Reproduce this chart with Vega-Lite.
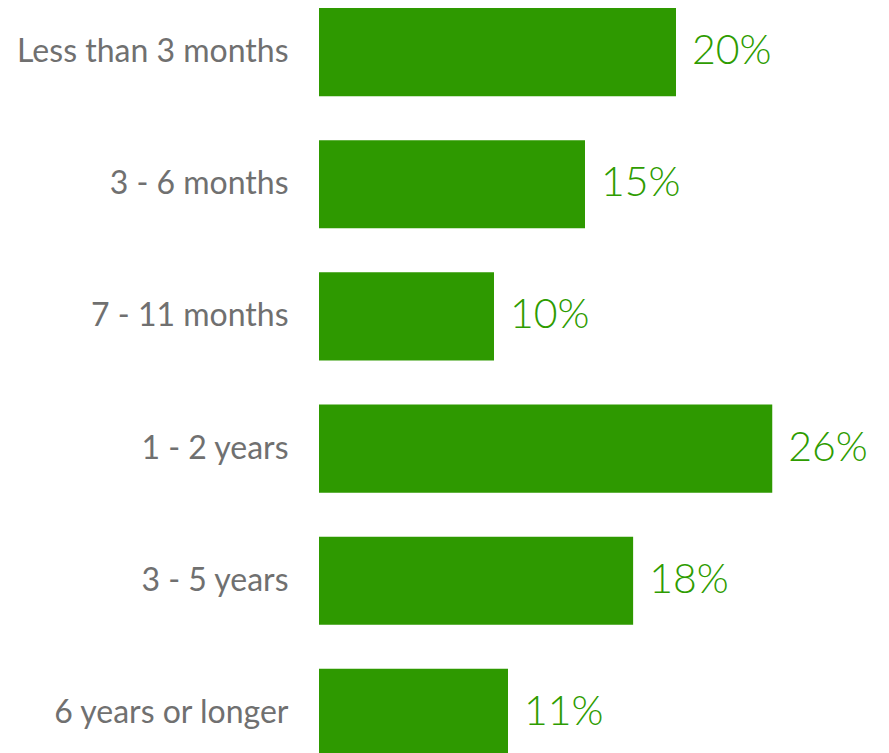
{
  "$schema": "https://vega.github.io/schema/vega-lite/v6.json",
  "width": 560,
  "height": 749,
  "autosize": "none",
  "padding": {"left": 319, "top": 8, "right": 10, "bottom": 0},
  "background": "white",
  "config": {"view": {"stroke": null}},
  "data": {
    "values": [
      {"category": "Less than 3 months", "value": 20.4, "label": "20%"},
      {"category": "3 - 6 months", "value": 15.2, "label": "15%"},
      {"category": "7 - 11 months", "value": 10.0, "label": "10%"},
      {"category": "1 - 2 years", "value": 25.9, "label": "26%"},
      {"category": "3 - 5 years", "value": 17.95, "label": "18%"},
      {"category": "6 years or longer", "value": 10.8, "label": "11%"}
    ]
  },
  "encoding": {
    "y": {
      "field": "category",
      "type": "nominal",
      "sort": null,
      "scale": {"paddingInner": 0.333, "paddingOuter": 0},
      "axis": {
        "title": null,
        "domain": false,
        "ticks": false,
        "labelPadding": 31,
        "labelFont": "Lato",
        "labelFontSize": 32,
        "labelFontWeight": 400,
        "labelColor": "#707070",
        "labelLimit": 400
      }
    },
    "x": {
      "field": "value",
      "type": "quantitative",
      "scale": {"domain": [0, 32]},
      "axis": null
    }
  },
  "layer": [
    {"mark": {"type": "bar", "color": "#2e9900"}},
    {
      "mark": {
        "type": "text",
        "align": "left",
        "baseline": "middle",
        "dx": 16,
        "font": "Lato",
        "fontSize": 41,
        "fontWeight": 300,
        "color": "#2e9c00"
      },
      "encoding": {"text": {"field": "label"}}
    }
  ]
}
